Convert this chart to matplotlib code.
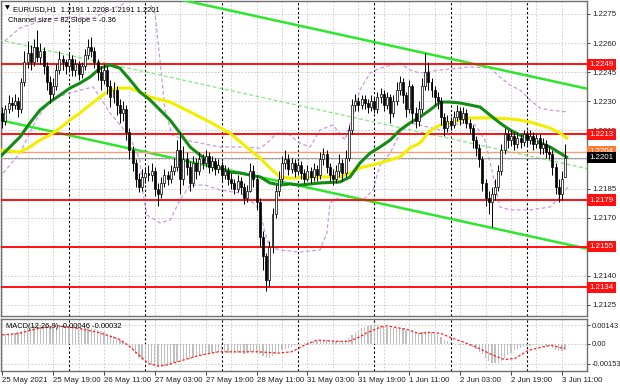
import numpy as np
import matplotlib
matplotlib.use("Agg")
import matplotlib.pyplot as plt
from matplotlib import transforms

# ---------------- data ----------------
opens = [1.2224,1.2220,1.2226,1.2229,1.2228,1.2230,1.2226,1.2240,1.2250,1.2255,
 1.2250,1.2258,1.2253,1.2256,1.2248,1.2240,1.2234,1.2238,1.2246,1.2252,
 1.2250,1.2248,1.2252,1.2246,1.2249,1.2244,1.2248,1.2254,1.2258,1.2256,
 1.2250,1.2245,1.2241,1.2246,1.2238,1.2232,1.2236,1.2228,1.2224,1.2226,
 1.2214,1.2205,1.2198,1.2190,1.2186,1.2191,1.2193,1.2192,1.2194,1.2185,
 1.2182,1.2188,1.2192,1.2190,1.2194,1.2196,1.2205,1.2190,1.2200,1.2196,
 1.2188,1.2198,1.2194,1.2200,1.2198,1.2202,1.2196,1.2199,1.2195,1.2197,
 1.2192,1.2194,1.2190,1.2188,1.2185,1.2189,1.2186,1.2180,1.2184,1.2194,
 1.2190,1.2178,1.2160,1.2150,1.2138,1.2155,1.2172,1.2184,1.2190,1.2198,
 1.2200,1.2195,1.2198,1.2194,1.2197,1.2193,1.2190,1.2194,1.2191,1.2195,
 1.2192,1.2200,1.2203,1.2196,1.2192,1.2190,1.2194,1.2198,1.2193,1.2201,
 1.2215,1.2228,1.2230,1.2228,1.2231,1.2229,1.2227,1.2230,1.2226,1.2232,
 1.2234,1.2228,1.2232,1.2224,1.2230,1.2236,1.2240,1.2233,1.2226,1.2238,
 1.2224,1.2220,1.2226,1.2238,1.2245,1.2240,1.2236,1.2232,1.2230,1.2222,
 1.2216,1.2220,1.2218,1.2222,1.2225,1.2221,1.2224,1.2219,1.2216,1.2210,
 1.2206,1.2200,1.2188,1.2180,1.2178,1.2182,1.2186,1.2194,1.2205,1.2213,
 1.2210,1.2212,1.2208,1.2211,1.2209,1.2213,1.2210,1.2212,1.2208,1.2211,
 1.2206,1.2208,1.2204,1.2203,1.2196,1.2186,1.2182,1.2191]
closes = [1.2220,1.2226,1.2229,1.2228,1.2230,1.2226,1.2240,1.2250,1.2255,1.2250,
 1.2258,1.2253,1.2256,1.2248,1.2240,1.2234,1.2238,1.2246,1.2252,1.2250,
 1.2248,1.2252,1.2246,1.2249,1.2244,1.2248,1.2254,1.2258,1.2256,1.2250,
 1.2245,1.2241,1.2246,1.2238,1.2232,1.2236,1.2228,1.2224,1.2226,1.2214,
 1.2205,1.2198,1.2190,1.2186,1.2191,1.2193,1.2192,1.2194,1.2185,1.2182,
 1.2188,1.2192,1.2190,1.2194,1.2196,1.2205,1.2190,1.2200,1.2196,1.2188,
 1.2198,1.2194,1.2200,1.2198,1.2202,1.2196,1.2199,1.2195,1.2197,1.2192,
 1.2194,1.2190,1.2188,1.2185,1.2189,1.2186,1.2180,1.2184,1.2194,1.2190,
 1.2178,1.2160,1.2150,1.2138,1.2155,1.2172,1.2184,1.2190,1.2198,1.2200,
 1.2195,1.2198,1.2194,1.2197,1.2193,1.2190,1.2194,1.2191,1.2195,1.2192,
 1.2200,1.2203,1.2196,1.2192,1.2190,1.2194,1.2198,1.2193,1.2201,1.2215,
 1.2228,1.2230,1.2228,1.2231,1.2229,1.2227,1.2230,1.2226,1.2232,1.2234,
 1.2228,1.2232,1.2224,1.2230,1.2236,1.2240,1.2233,1.2226,1.2238,1.2224,
 1.2220,1.2226,1.2238,1.2245,1.2240,1.2236,1.2232,1.2230,1.2222,1.2216,
 1.2220,1.2218,1.2222,1.2225,1.2221,1.2224,1.2219,1.2216,1.2210,1.2206,
 1.2200,1.2188,1.2180,1.2178,1.2182,1.2186,1.2194,1.2205,1.2213,1.2210,
 1.2212,1.2208,1.2211,1.2209,1.2213,1.2210,1.2212,1.2208,1.2211,1.2206,
 1.2208,1.2204,1.2203,1.2196,1.2186,1.2182,1.2190,1.2201]
highs = [1.2227,1.2228,1.2233,1.2232,1.2234,1.2232,1.2242,1.2256,1.2261,1.2259,
 1.2262,1.2267,1.2260,1.2258,1.2250,1.2243,1.2242,1.2249,1.2256,1.2254,
 1.2252,1.2255,1.2254,1.2252,1.2251,1.2250,1.2257,1.2262,1.2263,1.2258,
 1.2252,1.2248,1.2249,1.2248,1.2241,1.2240,1.2238,1.2231,1.2230,1.2228,
 1.2216,1.2207,1.2200,1.2193,1.2195,1.2196,1.2197,1.2198,1.2196,1.2188,
 1.2191,1.2195,1.2194,1.2197,1.2201,1.2210,1.2214,1.2207,1.2204,1.2199,
 1.2202,1.2201,1.2204,1.2203,1.2205,1.2204,1.2202,1.2201,1.2200,1.2199,
 1.2197,1.2196,1.2193,1.2190,1.2192,1.2191,1.2188,1.2187,1.2198,1.2197,
 1.2192,1.2180,1.2163,1.2152,1.2158,1.2175,1.2187,1.2194,1.2202,1.2205,
 1.2203,1.2201,1.2200,1.2199,1.2199,1.2195,1.2197,1.2196,1.2198,1.2197,
 1.2204,1.2206,1.2205,1.2198,1.2195,1.2197,1.2203,1.2200,1.2205,1.2218,
 1.2231,1.2234,1.2232,1.2233,1.2233,1.2231,1.2233,1.2232,1.2235,1.2237,
 1.2236,1.2235,1.2234,1.2233,1.2240,1.2243,1.2242,1.2235,1.2241,1.2239,
 1.2227,1.2230,1.2242,1.2255,1.2250,1.2242,1.2238,1.2235,1.2232,1.2224,
 1.2223,1.2222,1.2225,1.2228,1.2227,1.2227,1.2226,1.2221,1.2218,1.2212,
 1.2208,1.2202,1.2190,1.2184,1.2186,1.2190,1.2197,1.2208,1.2216,1.2215,
 1.2215,1.2214,1.2214,1.2213,1.2215,1.2215,1.2215,1.2214,1.2213,1.2213,
 1.2211,1.2210,1.2207,1.2205,1.2198,1.2190,1.2194,1.2208]
lows = [1.2216,1.2218,1.2224,1.2225,1.2226,1.2222,1.2224,1.2238,1.2247,1.2246,
 1.2248,1.2250,1.2249,1.2244,1.2236,1.2229,1.2231,1.2236,1.2244,1.2246,
 1.2244,1.2245,1.2243,1.2243,1.2241,1.2242,1.2246,1.2252,1.2253,1.2247,
 1.2241,1.2236,1.2239,1.2234,1.2227,1.2229,1.2223,1.2219,1.2220,1.2210,
 1.2200,1.2194,1.2186,1.2183,1.2184,1.2188,1.2189,1.2189,1.2181,1.2176,
 1.2180,1.2186,1.2187,1.2188,1.2192,1.2194,1.2182,1.2187,1.2192,1.2184,
 1.2186,1.2190,1.2192,1.2195,1.2196,1.2193,1.2194,1.2192,1.2193,1.2189,
 1.2190,1.2187,1.2185,1.2182,1.2183,1.2182,1.2177,1.2178,1.2183,1.2186,
 1.2174,1.2155,1.2143,1.2132,1.2135,1.2152,1.2170,1.2181,1.2188,1.2195,
 1.2192,1.2193,1.2191,1.2192,1.2190,1.2188,1.2189,1.2188,1.2189,1.2189,
 1.2190,1.2197,1.2193,1.2189,1.2187,1.2188,1.2191,1.2189,1.2191,1.2199,
 1.2213,1.2225,1.2225,1.2226,1.2226,1.2224,1.2225,1.2224,1.2224,1.2229,
 1.2225,1.2226,1.2219,1.2222,1.2228,1.2233,1.2229,1.2222,1.2224,1.2219,
 1.2216,1.2217,1.2224,1.2236,1.2236,1.2232,1.2228,1.2226,1.2218,1.2212,
 1.2214,1.2215,1.2216,1.2220,1.2218,1.2219,1.2216,1.2213,1.2206,1.2202,
 1.2196,1.2184,1.2176,1.2172,1.2165,1.2179,1.2184,1.2192,1.2203,1.2206,
 1.2207,1.2205,1.2206,1.2206,1.2207,1.2207,1.2208,1.2205,1.2206,1.2203,
 1.2203,1.2201,1.2200,1.2192,1.2182,1.2178,1.2179,1.2191]

macd_hist = [0.00070,0.00075,0.00080,0.00085,0.00088,0.00090,0.00100,0.00115,0.00125,0.00135,
 0.00142,0.00146,0.00146,0.00142,0.00135,0.00128,0.00126,0.00130,0.00136,0.00138,
 0.00136,0.00136,0.00130,0.00128,0.00122,0.00120,0.00124,0.00128,0.00126,0.00118,
 0.00108,0.00098,0.00092,0.00080,0.00066,0.00058,0.00044,0.00030,0.00020,0.00002,
 -0.00022,-0.00050,-0.00080,-0.00105,-0.00125,-0.00140,-0.00150,-0.00160,-0.00172,-0.00180,
 -0.00178,-0.00172,-0.00165,-0.00158,-0.00150,-0.00138,-0.00132,-0.00125,-0.00118,-0.00112,
 -0.00105,-0.00098,-0.00090,-0.00082,-0.00075,-0.00072,-0.00068,-0.00066,-0.00064,-0.00064,
 -0.00064,-0.00066,-0.00068,-0.00070,-0.00070,-0.00072,-0.00074,-0.00072,-0.00064,-0.00060,
 -0.00066,-0.00080,-0.00095,-0.00110,-0.00105,-0.00090,-0.00075,-0.00062,-0.00050,-0.00040,
 -0.00032,-0.00024,-0.00016,-0.00008,0.00000,0.00008,0.00014,0.00018,0.00022,0.00026,
 0.00030,0.00034,0.00032,0.00028,0.00024,0.00022,0.00024,0.00022,0.00028,0.00045,
 0.00070,0.00090,0.00110,0.00124,0.00134,0.00140,0.00144,0.00145,0.00146,0.00144,
 0.00140,0.00134,0.00126,0.00122,0.00124,0.00126,0.00120,0.00110,0.00108,0.00100,
 0.00090,0.00086,0.00092,0.00100,0.00098,0.00090,0.00080,0.00068,0.00050,0.00032,
 0.00020,0.00010,0.00004,0.00000,-0.00004,-0.00006,-0.00010,-0.00014,-0.00024,-0.00040,
 -0.00058,-0.00080,-0.00105,-0.00128,-0.00145,-0.00150,-0.00145,-0.00128,-0.00105,-0.00085,
 -0.00066,-0.00050,-0.00038,-0.00028,-0.00020,-0.00016,-0.00012,-0.00010,-0.00008,-0.00010,
 -0.00012,-0.00014,-0.00018,-0.00030,-0.00045,-0.00055,-0.00055,-0.00046]

signal_bars = [0,5,11.3,17.6,24,30,36.5,39.6,42.8,46,49,52,57.5,61.6,68,74,80.5,86.8,91,95,
 99,105.7,109,112,115,119,121,127.7,131,135,138,141,145.6,149.7,153.8,158,161.3,165.4,168.6,172.6,175.8,177]
signal_vals = [0.0007,0.0008,0.0012,0.0014,0.0012,0.0009,0.0004,-0.0001,-0.0008,-0.0015,-0.0017,-0.0016,
 -0.0012,-0.0009,-0.0006,-0.0006,-0.0006,-0.0007,-0.0006,-0.0001,0.0003,0.0002,0.0002,0.0005,0.0009,
 0.0013,0.0014,0.0011,0.0008,0.0009,0.0008,0.0005,0.0001,-0.0003,-0.0008,-0.0012,-0.0011,-0.0005,
 -0.0003,-0.0001,-0.0003,-0.00032]

ma_fast_bars = [-0.7,5.6,8.7,11.9,15.0,18.2,21.3,24.5,27.6,30.8,33.9,37.0,40.2,43.3,46.5,52.8,55.9,59.1,
 62.2,65.3,68.5,71.6,74.8,77.9,81.1,84.2,87.4,90.5,93.6,100.0,106.2,109.4,112.5,115.7,118.8,122.0,
 125.1,128.2,131.4,134.5,137.7,140.8,144.0,147.1,150.3,153.4,156.5,159.7,162.8,166.0,169.1,172.3,175.4,177.9]
ma_fast_vals = [1.22013,1.22116,1.22188,1.22255,1.22296,1.22332,1.22368,1.22394,1.22425,1.22471,1.22487,
 1.22471,1.22410,1.22348,1.22307,1.22203,1.22136,1.22064,1.22023,1.21987,1.21956,1.21935,1.21930,
 1.21920,1.21910,1.21879,1.21868,1.21874,1.21868,1.21879,1.21884,1.21910,1.21982,1.22033,1.22064,
 1.22100,1.22152,1.22188,1.22219,1.22255,1.22296,1.22296,1.22291,1.22281,1.22270,1.22229,1.22188,
 1.22152,1.22126,1.22111,1.22085,1.22064,1.22033,1.22008]

ma_slow_bars = [-0.7,5.6,8.7,11.9,15.0,18.2,21.3,24.5,27.6,30.8,33.9,37.0,40.2,43.3,46.5,52.8,59.1,65.3,
 71.6,77.9,81.1,84.2,87.4,90.5,100.0,106.2,109.4,112.5,118.8,125.1,128.2,131.4,134.5,137.7,140.8,
 144.0,147.1,153.4,159.7,162.8,166.0,169.1,172.3,175.4,177.9]
ma_slow_vals = [1.22049,1.22038,1.22064,1.22100,1.22126,1.22162,1.22203,1.22240,1.22281,1.22322,1.22358,
 1.22368,1.22368,1.22348,1.22322,1.22296,1.22245,1.22193,1.22136,1.22049,1.22008,1.21956,1.21910,
 1.21904,1.21910,1.21910,1.21930,1.21956,1.21982,1.22013,1.22059,1.22085,1.22147,1.22178,1.22188,
 1.22203,1.22214,1.22214,1.22209,1.22203,1.22193,1.22178,1.22162,1.22136,1.22106]

band_up_bars = [-0.7,5.6,14.1,21.3,28.6,33.9,38.0,41.8,45.8,48.1,49.6,51.2,53.4,57.5,62.2,68.5,74.8,81.1,
 83.3,86.4,89.6,93.6,96.8,99.9,104.0,107.8,110.3,112.5,115.7,118.8,125.1,128.2,131.4,137.7,147.1,
 153.4,156.5,159.7,162.8,166.0,169.1,172.3,177.9]
band_up_vals = [1.22590,1.22678,1.22724,1.22734,1.22729,1.22770,1.22801,1.22848,1.22832,1.22745,1.22513,
 1.22255,1.22126,1.22100,1.22085,1.22064,1.22064,1.22059,1.22085,1.22136,1.22136,1.22085,1.22064,
 1.22152,1.22178,1.22100,1.22229,1.22358,1.22446,1.22471,1.22497,1.22461,1.22446,1.22461,1.22477,
 1.22471,1.22425,1.22384,1.22358,1.22307,1.22265,1.22255,1.22245]
band_lo_bars = [0.3,5.6,10.3,15.0,21.3,28.6,33.9,40.2,43.3,44.3,45.5,49.6,52.8,55.9,59.1,63.8,68.5,74.8,
 77.9,81.1,82.6,84.2,87.4,93.6,99.9,102.1,103.1,107.2,110.3,113.5,116.6,118.8,122.0,125.1,128.2,
 131.4,137.7,144.0,148.7,151.8,154.0,156.5,159.7,166.0,172.3,175.4,177.9]
band_lo_vals = [1.21930,1.22033,1.22193,1.22307,1.22343,1.22374,1.22240,1.22116,1.21997,1.21827,1.21714,
 1.21673,1.21688,1.21791,1.21868,1.21868,1.21843,1.21827,1.21791,1.21740,1.21621,1.21549,1.21533,
 1.21523,1.21533,1.21621,1.21776,1.21817,1.21791,1.21791,1.21843,1.21971,1.22033,1.22136,1.22188,
 1.22178,1.22152,1.22188,1.22178,1.22100,1.21946,1.21755,1.21740,1.21740,1.21755,1.21807,1.21858]

channel_bars = [-1.0, 185.0]
channel_upper = [1.23029, 1.22361]
channel_middle = [1.22617, 1.21949]
channel_lower = [1.22204, 1.21536]

level_prices = [1.2249, 1.2213, 1.2179, 1.2155, 1.2134]
level_labels = ["1.2249", "1.2213", "1.2179", "1.2155", "1.2134"]
ask_price, ask_label = 1.2204, "1.2204"
bid_price, bid_label = 1.2201, "1.2201"

price_ticks = [1.2275, 1.2260, 1.2245, 1.2230, 1.2215, 1.2200, 1.2185, 1.2170, 1.2155, 1.2140, 1.2125]
# labels hidden behind the level tags in the reference are left blank
price_tick_labels = ["1.2275", "1.2260", "1.2245", "1.2230", "1.2215", "", "1.2185", "1.2170", "",
                     "1.2140", "1.2125"]
time_tick_bars = [0, 16, 32, 48, 64, 80, 96, 112, 128, 144, 160, 176]
time_tick_labels = ["25 May 2021", "25 May 19:00", "26 May 11:00", "27 May 03:00", "27 May 19:00",
                    "28 May 11:00", "31 May 03:00", "31 May 19:00", "1 Jun 11:00", "2 Jun 03:00",
                    "2 Jun 19:00", "3 Jun 11:00"]
day_sep_bars = [21, 45, 69, 93, 117, 141, 165]
macd_ticks = [0.00143, 0.0, -0.00153]
macd_tick_labels = ["0.00143", "0.00", "-0.00153"]

header = "EURUSD,H1  1.2191 1.2208 1.2191 1.2201"
subheader = "Channel size = 82 Slope = -0.36"
macd_title = "MACD(12,26,9) -0.00046 -0.00032"

# ---------------- figure ----------------
plt.rcParams['font.family'] = ['Liberation Sans', 'DejaVu Sans']
FS = 5.4
FS_T = 5.7
W, H = 620, 388
fig = plt.figure(figsize=(W / 100, H / 100), dpi=100)
fig.patch.set_facecolor('white')
ax = fig.add_axes([1 / W, 1 - 316 / H, 586 / W, 315 / H])
axm = fig.add_axes([1 / W, 1 - 371 / H, 586 / W, 52 / H])

XL = (-0.38, 183.9)
for a in (ax, axm):
    a.set_xlim(*XL)
    for s in a.spines.values():
        s.set_color('#707070')
        s.set_linewidth(1.0)
ax.set_ylim(1.21193, 1.22817)
axm.set_ylim(-0.002077, 0.001923)

grid_kw = dict(color='#c8c8c8', lw=0.6, linestyle=(0, (2, 2)), zorder=0)
for b in range(0, 190, 8):
    ax.axvline(b, **grid_kw)
    axm.axvline(b, **grid_kw)
for p in price_ticks:
    ax.axhline(p, **grid_kw)
axm.axhline(0.0, **grid_kw)
axm.axhline(0.00143, **grid_kw)
axm.axhline(-0.00153, **grid_kw)
for b in day_sep_bars:
    ax.axvline(b, color='black', lw=0.8, linestyle=(0, (2, 2)), zorder=1)
    axm.axvline(b, color='black', lw=0.8, linestyle=(0, (2, 2)), zorder=1)

# channel
ax.plot(channel_bars, channel_upper, color='#2ee62e', lw=1.8, zorder=3)
ax.plot(channel_bars, channel_lower, color='#2ee62e', lw=1.8, zorder=3)
ax.plot(channel_bars, channel_middle, color='#7fe87f', lw=0.9, linestyle=(0, (3, 2)), zorder=3)

# envelopes
ax.plot(band_up_bars, band_up_vals, color='#c89be0', lw=0.9, linestyle=(0, (3, 2)), zorder=2)
ax.plot(band_lo_bars, band_lo_vals, color='#c89be0', lw=0.9, linestyle=(0, (3, 2)), zorder=2)

# levels
for p in level_prices:
    ax.axhline(p, color='#ff1010', lw=1.4, zorder=4)
ax.axhline(ask_price, color='#f4a07a', lw=1.0, zorder=4)
ax.axhline(bid_price, color='#a0a0a0', lw=0.8, zorder=4)

# moving averages
ax.plot(ma_slow_bars, ma_slow_vals, color='#f2ee00', lw=2.2, zorder=5, solid_capstyle='butt')
ax.plot(ma_fast_bars, ma_fast_vals, color='#128c12', lw=2.2, zorder=6, solid_capstyle='butt')

# candles
x = np.arange(len(closes))
o = np.array(opens); c = np.array(closes); h = np.array(highs); l = np.array(lows)
ax.vlines(x, l, h, color='black', lw=0.7, zorder=7)
up = c >= o
body = np.where(np.abs(c - o) < 0.00003, 0.00003, c - o)
ax.bar(x[up], body[up], bottom=o[up], width=0.62, color='white', edgecolor='black', lw=0.5, zorder=8)
ax.bar(x[~up], body[~up], bottom=o[~up], width=0.62, color='black', edgecolor='black', lw=0.5, zorder=8)

# price axis
ax.yaxis.tick_right()
ax.set_yticks(price_ticks)
ax.set_yticklabels(price_tick_labels)
ax.tick_params(axis='y', length=2.5, width=0.6, pad=1.5, labelsize=FS_T, colors='#202020')
ax.tick_params(axis='x', bottom=False, labelbottom=False)

trans = transforms.blended_transform_factory(ax.transAxes, ax.transData)
def tag(price, label, fc, tc='white'):
    ax.text(1.004, price, label, transform=trans, fontsize=FS_T, color=tc, ha='left', va='center',
            zorder=20, clip_on=False,
            bbox=dict(boxstyle='square,pad=0.28', fc=fc, ec='none'))
for p, lab in zip(level_prices, level_labels):
    tag(p, lab, '#ff1010')
tag(ask_price, ask_label, '#ff7b3a')
tag(bid_price, bid_label, '#000000')

# header texts
ax.text(0.006, 0.985, "\u25BC", transform=ax.transAxes, fontsize=FS - 0.8, ha='left', va='top',
        color='black', zorder=30, family='DejaVu Sans')
ax.text(0.021, 0.985, header, transform=ax.transAxes, fontsize=FS, ha='left', va='top', color='black', zorder=30)
ax.text(0.012, 0.948, subheader, transform=ax.transAxes, fontsize=FS, ha='left', va='top', color='black', zorder=30)

# MACD
axm.bar(x, macd_hist, width=0.4, color='#c0c0c0', edgecolor='none', zorder=3)
axm.plot(signal_bars, signal_vals, color='#ff2020', lw=0.9, linestyle=(0, (2, 1.5)), zorder=4)
axm.yaxis.tick_right()
axm.set_yticks(macd_ticks)
axm.set_yticklabels(macd_tick_labels)
axm.tick_params(axis='y', length=2.5, width=0.6, pad=1.0, labelsize=FS, colors='#202020')
axm.set_xticks(time_tick_bars)
axm.set_xticklabels(time_tick_labels)
axm.tick_params(axis='x', length=3, width=0.6, pad=1.5, labelsize=FS_T, colors='#202020')
for lbl in axm.get_xticklabels():
    lbl.set_ha('left')
axm.text(0.008, 0.93, macd_title, transform=axm.transAxes, fontsize=FS, ha='left', va='top', color='black', zorder=30)

fig.savefig('out.png', dpi=100, facecolor='white')
